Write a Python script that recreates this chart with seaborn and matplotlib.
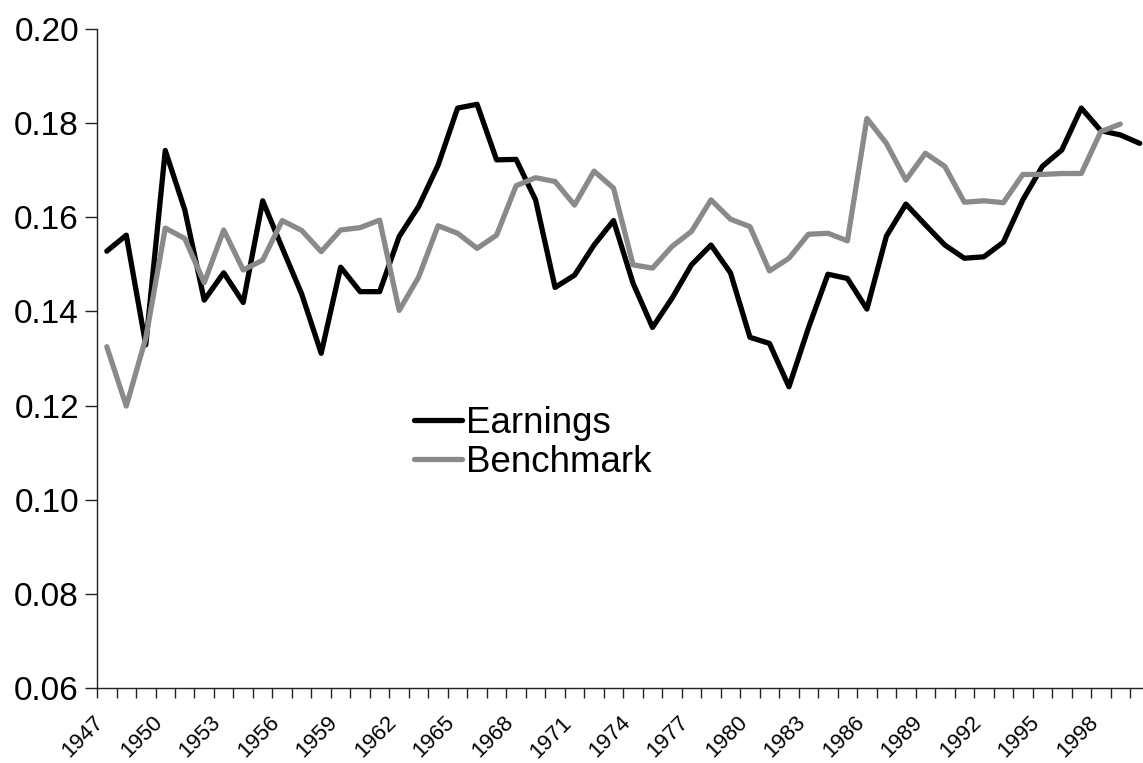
import numpy as np
import pandas as pd
import seaborn as sns
import matplotlib
matplotlib.use("Agg")
import matplotlib.pyplot as plt
import matplotlib.ticker as mticker
from matplotlib.transforms import ScaledTranslation

# values
years = list(range(1947, 2001))
earnings = [0.1528, 0.1562, 0.1329, 0.1742, 0.1616, 0.1424, 0.1482, 0.1419, 0.1635, 0.1535,
            0.1437, 0.1311, 0.1494, 0.1442, 0.1442, 0.1559, 0.1623, 0.1711, 0.1832, 0.1840,
            0.1722, 0.1723, 0.1637, 0.1451, 0.1477, 0.1541, 0.1593, 0.1460, 0.1366, 0.1428,
            0.1499, 0.1541, 0.1482, 0.1345, 0.1332, 0.1240, 0.1365, 0.1479, 0.1470, 0.1405,
            0.1560, 0.1628, 0.1584, 0.1541, 0.1513, 0.1516, 0.1547, 0.1637, 0.1708, 0.1743,
            0.1832, 0.1784, 0.1775, 0.1757]
benchmark = [0.1325, 0.1199, 0.1343, 0.1577, 0.1555, 0.1461, 0.1573, 0.1488, 0.1509, 0.1593,
             0.1572, 0.1527, 0.1573, 0.1578, 0.1594, 0.1402, 0.1473, 0.1582, 0.1566, 0.1534,
             0.1562, 0.1667, 0.1684, 0.1676, 0.1626, 0.1698, 0.1662, 0.1499, 0.1492, 0.1538,
             0.1570, 0.1637, 0.1596, 0.1580, 0.1486, 0.1513, 0.1564, 0.1566, 0.1550, 0.1810,
             0.1757, 0.1679, 0.1736, 0.1708, 0.1632, 0.1635, 0.1631, 0.1691, 0.1691, 0.1693,
             0.1693, 0.1782, 0.1798]
series_names = ["Earnings", "Benchmark"]
label_years = list(range(1947, 2000, 3))
y_ticks = [0.06, 0.08, 0.10, 0.12, 0.14, 0.16, 0.18, 0.20]

df = pd.concat([
    pd.DataFrame({"year": years, "value": earnings, "series": "Earnings"}),
    pd.DataFrame({"year": years[:len(benchmark)], "value": benchmark, "series": "Benchmark"}),
])

sns.set_style("white")
plt.rcParams["font.family"] = ["Liberation Sans", "DejaVu Sans"]
plt.rcParams["text.color"] = "black"
plt.rcParams["xtick.color"] = "black"
plt.rcParams["ytick.color"] = "black"

fig = plt.figure(figsize=(11.43, 7.63), dpi=100)
ax = fig.add_axes([0.0849, 0.0983, 0.9208, 0.8637])

sns.lineplot(data=df, x="year", y="value", hue="series", hue_order=series_names,
             palette={"Earnings": "#000000", "Benchmark": "#8a8a8a"},
             linewidth=3.8, ax=ax)

ax.set_xlim(1946.5, 2000.5)
ax.set_ylim(0.06, 0.20)
ax.set_xlabel("")
ax.set_ylabel("")

# category style x axis: tick marks between years, labels every third year
ax.xaxis.set_major_locator(mticker.FixedLocator(label_years))
ax.xaxis.set_major_formatter(mticker.FixedFormatter([str(y) for y in label_years]))
ax.xaxis.set_minor_locator(mticker.FixedLocator(np.arange(1946.5, 2001, 1)))
ax.tick_params(axis="x", which="both", bottom=True)
ax.tick_params(axis="x", which="major", length=0, pad=22, labelsize=16, labelcolor="black")
ax.tick_params(axis="x", which="minor", length=7, width=1, color="#222222", direction="out")
shift = ScaledTranslation(-0.06, -0.01, fig.dpi_scale_trans)
for lab in ax.get_xticklabels():
	lab.set_rotation(45)
	lab.set_horizontalalignment("right")
	lab.set_verticalalignment("center")
	lab.set_rotation_mode("anchor")
	lab.set_transform(lab.get_transform() + shift)

ax.set_yticks(y_ticks)
ax.yaxis.set_major_formatter(mticker.FormatStrFormatter("%.2f"))
ax.tick_params(axis="y", left=True, length=9, width=1, color="#222222", direction="out",
               labelsize=24, pad=4, labelcolor="black")

for s in ["top", "right"]:
	ax.spines[s].set_visible(False)
for s in ["left", "bottom"]:
	ax.spines[s].set_color("#222222")
	ax.spines[s].set_linewidth(1)

leg = ax.legend(frameon=False, fontsize=26.5, loc="upper left", bbox_to_anchor=(0.2835, 0.456),
                handlelength=1.3, handletextpad=0.12, labelspacing=0.12, borderpad=0)
for t in leg.get_texts():
	t.set_color("black")

plt.savefig("out.png", dpi=100)
